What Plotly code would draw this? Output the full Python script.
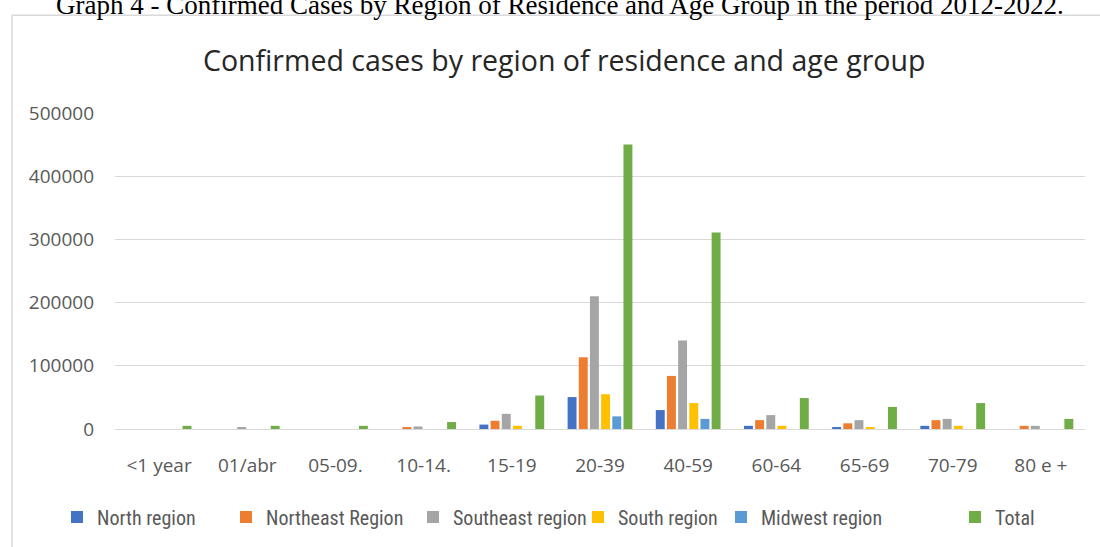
import plotly.graph_objects as go

categories = ["<1 year", "01/abr", "05-09.", "10-14.", "15-19", "20-39", "40-59", "60-64", "65-69", "70-79", "80 e +"]
north = [0, 0, 0, 0, 7000, 50500, 30000, 5000, 3000, 5000, 0]
northeast = [0, 0, 0, 2500, 13000, 113500, 84000, 14000, 9000, 14000, 5000]
southeast = [0, 3000, 0, 4000, 24000, 210000, 140000, 22000, 14000, 16000, 5000]
south = [0, 0, 0, 0, 5000, 55000, 41000, 5000, 3000, 5000, 0]
midwest = [0, 0, 0, 0, 0, 20000, 16000, 0, 0, 0, 0]
total = [5000, 5000, 5000, 11000, 53000, 450000, 311000, 49000, 35000, 41000, 16000]

series_names = ["North region", "Northeast Region", "Southeast region", "South region", "Midwest region", "Total"]
series_values = [north, northeast, southeast, south, midwest, total]
series_colors = ["#4472C4", "#ED7D31", "#A5A5A5", "#FFC000", "#5B9BD5", "#70AD47"]
legend_text_x = [99, 268, 455, 620, 763, 997]  # pixel x of legend text start

W, H = 1100, 547
L, R, T, B = 115, 15, 113, 117
pw, ph = W - L - R, H - T - B

def px2x(px):
    return (px - L) / pw

def py2y(py):
    return (H - B - py) / ph

fig = go.Figure()
layout_legends = {}
for i, (name, vals, col) in enumerate(zip(series_names, series_values, series_colors)):
    key = "legend" if i == 0 else f"legend{i+1}"
    fig.add_trace(go.Bar(x=categories, y=vals, name=name, marker=dict(color=col, line=dict(width=0)),
                         legend=key))
    layout_legends[key] = dict(
        x=px2x(legend_text_x[i] - 42), xanchor="left",
        y=py2y(517), yanchor="middle",
        orientation="h", bgcolor="rgba(0,0,0,0)",
        font=dict(family="Liberation Sans Narrow, Roboto Condensed, DejaVu Sans Condensed, Roboto", size=20, color="#595959"),
        itemwidth=30,
    )

fig.update_layout(
    width=W, height=H,
    margin=dict(l=L, r=R, t=T, b=B),
    paper_bgcolor="white", plot_bgcolor="white",
    barmode="group", bargap=0.24, bargroupgap=0.2,
    showlegend=True,
    font=dict(family="Open Sans", color="#595959"),
    **layout_legends,
)

fig.update_xaxes(
    type="category", showgrid=False, showline=True, linecolor="#d9d9d9", linewidth=1,
    ticks="", tickfont=dict(family="Open Sans", size=19, color="#595959"),
    ticklabelstandoff=19,
)
fig.update_yaxes(
    range=[0, 500000], tickvals=[0, 100000, 200000, 300000, 400000, 500000],
    ticktext=["0", "100000", "200000", "300000", "400000", "500000"],
    showgrid=True, gridcolor="#d9d9d9", gridwidth=1, zeroline=False,
    showline=False, ticks="", tickfont=dict(family="Open Sans", size=19, color="#595959"),
    ticklabelstandoff=20,
)

# chart border box
fig.add_shape(type="rect", xref="paper", yref="paper",
              x0=px2x(12), x1=px2x(1110), y0=py2y(560), y1=py2y(15),
              line=dict(color="#d9d9d9", width=1.5), fillcolor="rgba(0,0,0,0)", layer="below")

# chart title
fig.add_annotation(text="Confirmed cases by region of residence and age group",
                   xref="paper", yref="paper", x=px2x(564), y=py2y(60),
                   xanchor="center", yanchor="middle", showarrow=False,
                   font=dict(family="Open Sans", size=28.5, color="#262626"))

# document caption (cut off at top, as in the source)
fig.add_annotation(text="Graph 4 - Confirmed Cases by Region of Residence and Age Group in the period 2012-2022.",
                   xref="paper", yref="paper", x=px2x(560), y=py2y(5),
                   xanchor="center", yanchor="middle", showarrow=False,
                   font=dict(family="Liberation Serif", size=27, color="#000000"))

fig.write_html("out.html")
